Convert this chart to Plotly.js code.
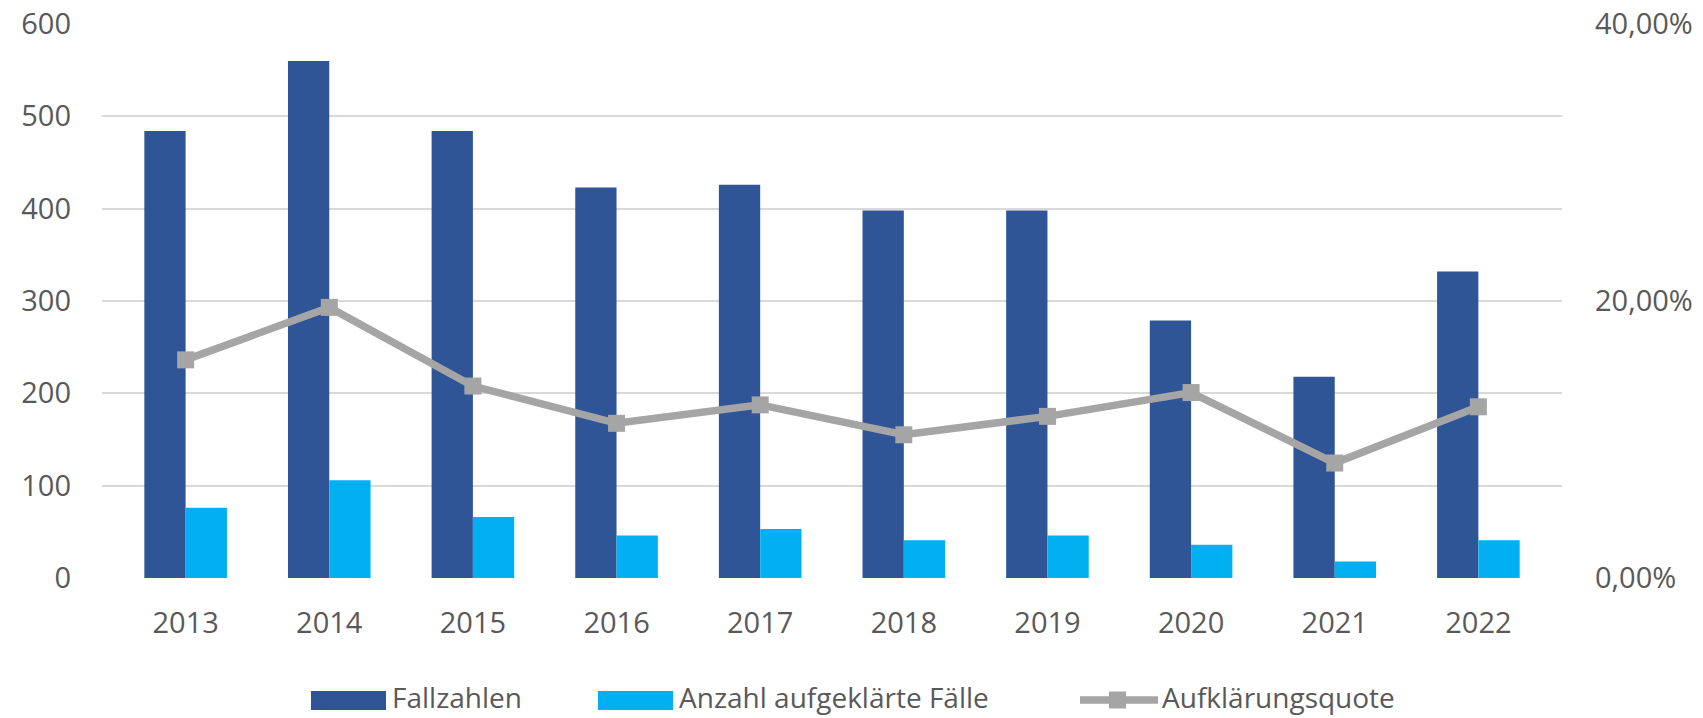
<!DOCTYPE html>
<html>
<head>
<meta charset="utf-8">
<script src="https://cdn.plot.ly/plotly-3.0.1.min.js"></script>
<style>html,body{margin:0;padding:0;background:#fff;}#chart{width:1703px;height:718px;}</style>
</head>
<body>
<div id="chart"></div>
<script>
const years = ["2013","2014","2015","2016","2017","2018","2019","2020","2021","2022"];
const fallzahlen = [484, 560, 484, 423, 426, 398, 398, 279, 218, 332];
const aufgeklaert = [76, 106, 66, 46, 53, 41, 46, 36, 18, 41];
const quote = [0.1575, 0.1954, 0.1386, 0.1117, 0.125, 0.1034, 0.1167, 0.1339, 0.083, 0.1236];
const seriesNames = ["Fallzahlen", "Anzahl aufgeklärte Fälle", "Aufklärungsquote"];
const leftTicks = [0, 100, 200, 300, 400, 500, 600];
const rightTicks = [0, 0.2, 0.4];

const cDark = "#2F5597", cLight = "#00B0F0", cGray = "#A5A5A5", cText = "#595959";
const fontFam = "Open Sans, sans-serif";

const traces = [
  {type: "bar", name: seriesNames[0], x: years, y: fallzahlen, marker: {color: cDark}, hoverinfo: "x+y"},
  {type: "bar", name: seriesNames[1], x: years, y: aufgeklaert, marker: {color: cLight}, hoverinfo: "x+y"},
  {type: "scatter", mode: "lines+markers", name: seriesNames[2], x: years, y: quote, yaxis: "y2",
   line: {color: cGray, width: 7.5}, marker: {symbol: "square", size: 17, color: cGray}}
];

// custom legend geometry (pixels -> paper)
const L = 102, R = 1562, T = 24, B = 578;
const W = R - L, H = B - T;
const px = v => (v - L) / W;
const py = v => (B - v) / H;
const legY = 700;
const textY = 697;
const shapes = [
  {type: "rect", xref: "paper", yref: "paper", x0: px(311), x1: px(386), y0: py(710), y1: py(691), fillcolor: cDark, line: {width: 0}},
  {type: "rect", xref: "paper", yref: "paper", x0: px(598), x1: px(673), y0: py(710), y1: py(691), fillcolor: cLight, line: {width: 0}},
  {type: "line", xref: "paper", yref: "paper", x0: px(1080), x1: px(1158), y0: py(legY), y1: py(legY), line: {color: cGray, width: 7.5}},
  {type: "rect", xref: "paper", yref: "paper", x0: px(1109), x1: px(1126), y0: py(legY + 8.5), y1: py(legY - 8.5), fillcolor: cGray, line: {width: 0}}
];
const legFont = {family: fontFam, size: 28, color: cText};
const annotations = [
  {xref: "paper", yref: "paper", x: px(391), y: py(textY), xanchor: "left", yanchor: "middle", text: seriesNames[0], showarrow: false, borderpad: 0, font: legFont},
  {xref: "paper", yref: "paper", x: px(678), y: py(textY), xanchor: "left", yanchor: "middle", text: seriesNames[1], showarrow: false, borderpad: 0, font: legFont},
  {xref: "paper", yref: "paper", x: px(1161), y: py(textY), xanchor: "left", yanchor: "middle", text: seriesNames[2], showarrow: false, borderpad: 0, font: legFont}
];

const layout = {
  width: 1703, height: 718,
  margin: {l: L, r: 1703 - R, t: T, b: 718 - B, pad: 0},
  paper_bgcolor: "#fff", plot_bgcolor: "#fff",
  separators: ",.",
  font: {family: fontFam, size: 29, color: cText},
  showlegend: false,
  barmode: "group", bargap: 0.425, bargroupgap: 0,
  xaxis: {type: "category", showgrid: false, zeroline: false, showline: false, ticks: "",
          ticklabelstandoff: 25, tickfont: {family: fontFam, size: 29, color: cText}},
  yaxis: {range: [0, 600], tickvals: leftTicks, showgrid: true, gridcolor: "#D9D9D9", gridwidth: 2,
          zeroline: false, showline: false, ticks: "", ticklabelstandoff: 30,
          tickfont: {family: fontFam, size: 29, color: cText}},
  yaxis2: {range: [0, 0.4], tickvals: rightTicks, tickformat: ".2%", overlaying: "y", side: "right",
           showgrid: false, zeroline: false, showline: false, ticks: "", ticklabelstandoff: 32,
           tickfont: {family: fontFam, size: 29, color: cText}},
  shapes: shapes,
  annotations: annotations
};

Plotly.newPlot("chart", traces, layout, {displayModeBar: false, staticPlot: true});
</script>
</body>
</html>
